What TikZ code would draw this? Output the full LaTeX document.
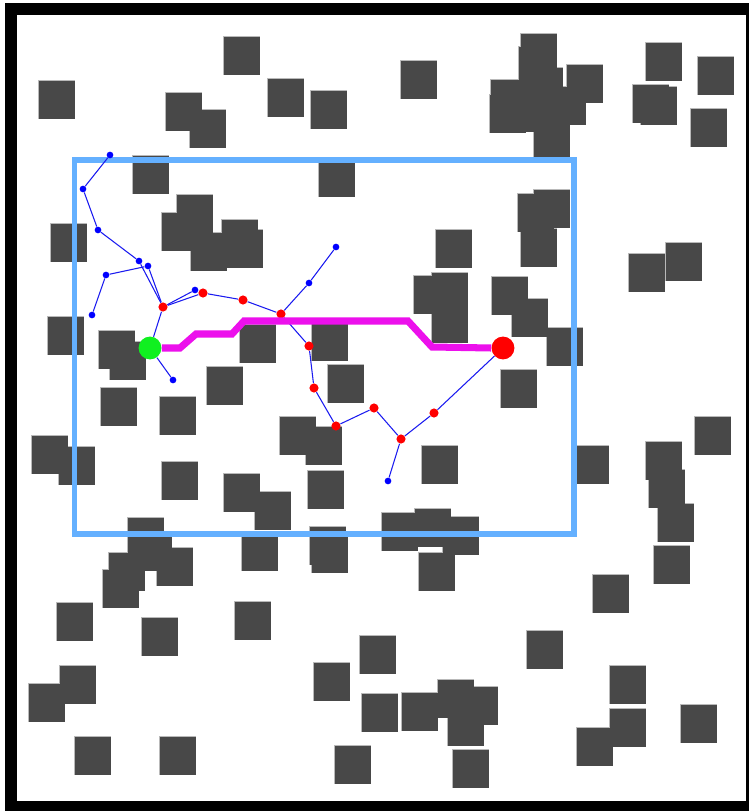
\documentclass[tikz,border=0pt]{standalone}
\usepackage{tikz}
\usetikzlibrary{positioning}
\definecolor{obstc}{HTML}{484848}
\definecolor{regionc}{HTML}{64B0FF}
\definecolor{pathc}{HTML}{EC10EC}
\definecolor{treec}{HTML}{1A1AF0}
\definecolor{startc}{HTML}{10F020}
% top-left corners of the obstacles
\newcommand\obstlist{224/37, 39/81, 166/93, 190/110, 268/79, 311/91, 401/61,
      521/34, 519/47, 527/68, 567/65, 491/80, 490/95, 514/94, 550/87, 534/120,
      646/43, 698/57, 633/85, 641/87, 691/109,
      133/156, 319/159, 177/195, 162/213, 191/233, 222/220, 227/230,
      51/224, 436/230, 518/194, 534/190, 521/229, 629/254, 666/243,
      48/317, 99/331, 110/342, 240/325, 312/323,
      414/276, 432/273, 432/305, 492/277, 512/299, 547/328,
      501/370, 328/365, 207/367, 101/388, 160/397,
      280/417, 306/427, 422/446, 573/446, 695/417, 646/442, 649/470, 658/504,
      32/436, 59/447, 162/462, 224/474, 255/492, 308/471,
      382/513, 415/509, 443/517, 419/553, 310/527, 312/535, 242/533,
      128/518, 136/533, 157/548, 109/553, 103/570,
      654/546, 593/575, 235/602, 57/603, 142/618, 527/631, 360/636, 314/663,
      610/666, 60/666, 29/684, 438/680, 462/687, 402/693, 362/694, 448/708,
      610/709, 681/705, 577/728, 75/737, 160/737, 335/746, 453/750}

\begin{document}
\begin{tikzpicture}[x=0.02cm, y=-0.02cm,
  obstedge/.style={draw=gray!55, line width=0.6pt},
  obst/.style={fill=obstc},
  region/.style={draw=regionc, line width=3.1pt},
  edge/.style={draw=treec, line width=0.6pt},
  leaf/.style={circle, fill=blue, inner sep=0pt, minimum size=3.8pt},
  hit/.style={circle, fill=red, inner sep=0pt, minimum size=5.2pt},
  route/.style={draw=pathc, line width=4pt},
  ends/.style={circle, inner sep=0pt, minimum size=13pt}
]
  \useasboundingbox (0,0) rectangle (749,811);
  % frame
  \fill[black] (5,3) rectangle (749,811);
  \fill[white] (17,15) rectangle (746,801);

  % obstacles: outlines first, then fills so overlaps merge
  \foreach \x/\y in \obstlist
    \draw[obstedge] (\x,\y) rectangle ++(35.5,37.8);
  \foreach \x/\y in \obstlist
    \fill[obst] (\x,\y) rectangle ++(35.5,37.8);

  % sampling region
  \draw[region] (74.5,160) rectangle (574,534);

  % tree
  \node[ends, fill=startc] (s) at (150,348) {};
  \node[ends, fill=red] (g) at (503,348) {};
  \foreach \n/\x/\y in {r1/163/307, r2/203/293, r3/243/300, r4/281/314,
      r5/309/346, r6/314/388, r7/336/426, r8/374/408, r9/401/439, r10/434/413}
    \node[hit] (\n) at (\x,\y) {};
  \foreach \n/\x/\y in {b1/110/155, b2/83/189, b3/98/230, b4/139/261,
      b5/148/266, b6/106/275, b7/92/315, b8/195/290, b9/336/247,
      b10/309/283, b11/173/380, b12/388/481}
    \node[leaf] (\n) at (\x,\y) {};

  \foreach \a/\b in {s/r1, s/b11, r1/b4, r1/b5, b4/b3, b3/b2, b2/b1,
      b6/b5, b6/b7, r1/b8, r1/r2, r2/r3, r3/r4, r4/b10, b10/b9,
      r4/r5, r5/r6, r6/r7, r7/r8, r8/r9, r9/r10, r10/g, r9/b12}
    \draw[edge] (\a) -- (\b);

  % path found
  \draw[route] (s.east) -- (180,348) -- (196,334) -- (232,334) -- (244,321)
    -- (408,321) -- (432,347) -- (g.west);
\end{tikzpicture}
\end{document}
